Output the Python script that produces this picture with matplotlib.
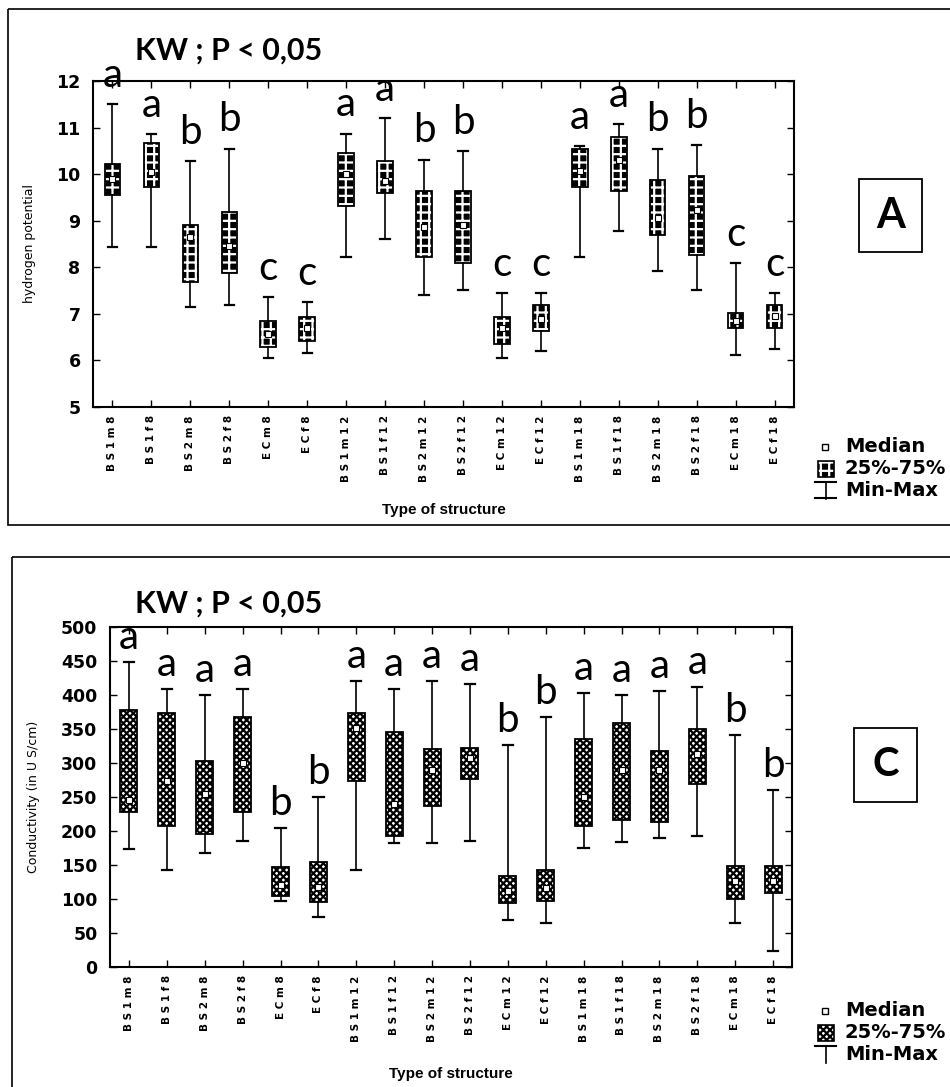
"""
Kruskal-Wallis box plots of pH and conductivity per structure type (panels A and C).
"""

import matplotlib.pyplot as plt
import matplotlib.patches as mpatches
import numpy as np

plt.rcParams["hatch.linewidth"] = 1.6

# Structure types, in display order
structures = [
    "B S 1 m 8", "B S 1 f 8", "B S 2 m 8", "B S 2 f 8", "E C m 8", "E C f 8",
    "B S 1 m 1 2", "B S 1 f 1 2", "B S 2 m 1 2", "B S 2 f 1 2", "E C m 1 2", "E C f 1 2",
    "B S 1 m 1 8", "B S 1 f 1 8", "B S 2 m 1 8", "B S 2 f 1 8", "E C m 1 8", "E C f 1 8",
]

# Panel A: hydrogen potential (pH)
ph_min = [8.44, 8.44, 7.14, 7.18, 6.05, 6.17, 8.23, 8.61, 7.40, 7.52, 6.05, 6.20,
          8.23, 8.78, 7.93, 7.52, 6.12, 6.25]
ph_q1 = [9.55, 9.73, 7.69, 7.87, 6.28, 6.41, 9.32, 9.60, 8.23, 8.09, 6.36, 6.64,
         9.73, 9.64, 8.70, 8.26, 6.70, 6.70]
ph_med = [9.90, 10.05, 8.65, 8.45, 6.56, 6.70, 10.00, 9.86, 8.86, 8.90, 6.70, 6.88,
          10.07, 10.30, 9.06, 9.22, 6.85, 6.95]
ph_q3 = [10.21, 10.67, 8.91, 9.18, 6.84, 6.93, 10.46, 10.29, 9.64, 9.64, 6.93, 7.19,
         10.54, 10.80, 9.87, 9.96, 7.01, 7.19]
ph_max = [11.51, 10.86, 10.28, 10.55, 7.36, 7.26, 10.87, 11.21, 10.31, 10.49, 7.44, 7.44,
          10.61, 11.08, 10.55, 10.63, 8.09, 7.44]
ph_letters = list("aabbccaabbccaabbcc")

# Panel C: conductivity
cond_min = [174, 143, 167, 186, 97, 73, 143, 182, 182, 186, 69, 65,
            175, 184, 190, 193, 65, 24]
cond_q1 = [228, 207, 196, 228, 105, 96, 273, 193, 237, 277, 94, 97,
           207, 216, 213, 269, 100, 109]
cond_med = [246, 273, 254, 300, 120, 118, 351, 240, 289, 308, 112, 116,
            250, 289, 289, 313, 126, 126]
cond_q3 = [378, 374, 303, 368, 147, 155, 374, 345, 321, 322, 134, 143,
           335, 359, 318, 350, 149, 149]
cond_max = [448, 409, 400, 409, 205, 250, 421, 409, 421, 416, 326, 368,
            403, 400, 406, 412, 341, 261]
cond_letters = list("aaaabbaaaabbaaaabb")

LETTER_FONT = "Lato"
BOLD_SANS = "DejaVu Sans"


def draw_boxes(ax, mins, q1, med, q3, maxs, face, hatch_color, hatch, width):
    """Draw min-max / quartile boxes with a patterned fill."""
    pos = np.arange(len(mins))
    stats = [
        dict(whislo=a, q1=b, med=c, q3=d, whishi=e, fliers=[])
        for a, b, c, d, e in zip(mins, q1, med, q3, maxs)
    ]
    parts = ax.bxp(
        stats,
        positions=pos,
        widths=width,
        capwidths=width * 0.6,
        patch_artist=True,
        whiskerprops=dict(color="black", linewidth=1.2),
        capprops=dict(color="black", linewidth=1.6),
        medianprops=dict(linewidth=0),
        manage_ticks=False,
    )
    for box in parts["boxes"]:
        box.set_facecolor(face)
        box.set_edgecolor(hatch_color)
        box.set_hatch(hatch)
        box.set_linewidth(0)
        ax.add_patch(
            mpatches.PathPatch(box.get_path(), facecolor="none", edgecolor="black",
                               linewidth=1.3, zorder=box.get_zorder() + 0.1)
        )
    ax.plot(pos, med, "s", ms=4, mfc="white", mec="black", mew=0.8, zorder=6)


def style_axis(ax, ylim, yticks, ylabel, label_x):
    ax.set_xlim(-0.5, len(structures) - 0.5)
    ax.set_ylim(*ylim)
    ax.set_yticks(yticks)
    ax.set_yticklabels([str(t) for t in yticks], fontsize=12.5, fontweight="bold",
                       family=BOLD_SANS)
    ax.set_xticks(np.arange(len(structures)))
    ax.set_xticklabels(structures, rotation=90, fontsize=7.5, fontweight="bold",
                       family=BOLD_SANS, va="top")
    ax.tick_params(direction="in", top=True, right=True, length=5, width=1)
    ax.tick_params(axis="y", pad=9)
    ax.tick_params(axis="x", pad=6)
    for sp in ax.spines.values():
        sp.set_linewidth(1.5)
    ax.set_ylabel(ylabel, fontsize=9, family="DejaVu Sans")
    ax.yaxis.set_label_coords(label_x, 0.5)
    ax.set_xlabel("Type of structure", fontsize=11, fontweight="bold",
                  family="Liberation Sans")
    ax.xaxis.set_label_coords(0.5, -0.295)


def add_letters(ax, maxs, letters, offset):
    for i, (m, l) in enumerate(zip(maxs, letters)):
        ax.text(i, m + offset, l, ha="center", va="baseline", fontsize=29,
                family=LETTER_FONT, clip_on=False, zorder=7)


fig = plt.figure(figsize=(9.5, 10.87), dpi=100)
W, H = 950, 1087

# Overlay in pixel coordinates for frames, titles and legends
ov = fig.add_axes([0, 0, 1, 1], zorder=-1)
ov.set_xlim(0, W)
ov.set_ylim(H, 0)
ov.axis("off")

ax_a = fig.add_axes([93 / W, 1 - 407 / H, 701 / W, 326 / H])
ax_c = fig.add_axes([110 / W, 1 - 967 / H, 682 / W, 340 / H])

# Panel A
draw_boxes(ax_a, ph_min, ph_q1, ph_med, ph_q3, ph_max, "black", "white", "++", 0.4)
style_axis(ax_a, (5, 12), list(range(5, 13)), "hydrogen potential", -0.081)
add_letters(ax_a, ph_max, ph_letters, 0.37)

# Panel C
draw_boxes(ax_c, cond_min, cond_q1, cond_med, cond_q3, cond_max, "white", "black",
           "xxxxx", 0.45)
style_axis(ax_c, (0, 500), list(range(0, 501, 50)), "Conductivity (in U S/cm)", -0.103)
add_letters(ax_c, cond_max, cond_letters, 19)

# Frames around each panel
ov.add_patch(mpatches.Rectangle((8, 9), 960, 516, fill=False, lw=1.2, ec="black"))
ov.add_patch(mpatches.Rectangle((12, 557), 960, 560, fill=False, lw=1.2, ec="black"))

# Test annotations
for y in (60, 613):
    ov.text(135, y, "KW ; P < 0,05", fontsize=22, fontweight="bold", family=LETTER_FONT,
            ha="left", va="baseline")

# Panel labels
ov.add_patch(mpatches.Rectangle((859, 179), 63, 73, fill=False, lw=1.3, ec="black"))
ov.text(890.5, 216, "A", fontsize=30, fontweight="bold", family=LETTER_FONT,
        ha="center", va="center")
ov.add_patch(mpatches.Rectangle((854, 728), 63, 74, fill=False, lw=1.3, ec="black"))
ov.text(885.5, 765, "C", fontsize=29, fontweight="bold", family=LETTER_FONT,
        ha="center", va="center")


def legend(y0, face, hatch_color, hatch, bottom_bar):
    # median symbol
    ov.add_patch(mpatches.Rectangle((822, y0 - 3), 6, 6, fc="white", ec="black", lw=1))
    # box symbol
    ov.add_patch(mpatches.Rectangle((818, y0 + 14), 16, 16, fc=face, ec=hatch_color,
                                    hatch=hatch, lw=0))
    ov.add_patch(mpatches.Rectangle((818, y0 + 14), 16, 16, fill=False, ec="black", lw=1.2))
    # min-max symbol
    ov.plot([815, 836], [y0 + 35, y0 + 35], color="black", lw=1.5)
    ov.plot([825.5, 825.5], [y0 + 35, y0 + 52], color="black", lw=1.2)
    if bottom_bar:
        ov.plot([815, 836], [y0 + 51, y0 + 51], color="black", lw=1.5)
    for dy, txt in zip((0, 22, 43), ("Median", "25%-75%", "Min-Max")):
        ov.text(845, y0 + dy, txt, fontsize=14, fontweight="bold", family=BOLD_SANS,
                ha="left", va="center")


legend(447, "black", "white", "++", True)
legend(1011, "white", "black", "xxxxx", False)

fig.savefig("out.png", dpi=100)
